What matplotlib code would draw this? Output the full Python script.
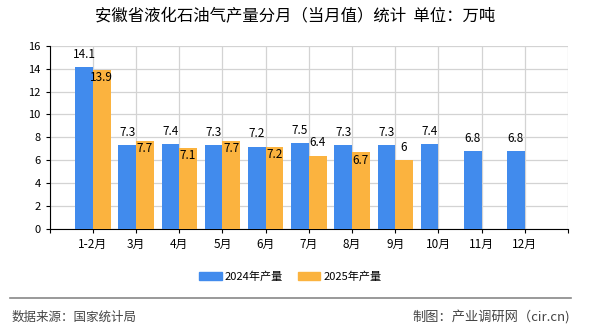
import matplotlib
matplotlib.use('Agg')
from matplotlib import pyplot as plt
import matplotlib.patches as mpatches
import numpy as np

plt.rcParams['font.family'] = ['Noto Sans CJK SC', 'DejaVu Sans']

months = ['1-2月', '3月', '4月', '5月', '6月', '7月', '8月', '9月', '10月', '11月', '12月']
vals_2024 = [14.1, 7.3, 7.4, 7.3, 7.2, 7.5, 7.3, 7.3, 7.4, 6.8, 6.8]
vals_2025 = [13.9, 7.7, 7.1, 7.7, 7.2, 6.4, 6.7, 6]

blue = '#418bed'
orange = '#fbb33f'

fig = plt.figure(figsize=(5.9, 3.3), dpi=100)
ax = fig.add_axes([0.0842, 0.306, 0.8785, 0.5555])

x = np.arange(1, len(months) + 1)
w = 0.41
ax.bar(x - w / 2, vals_2024, w, color=blue, zorder=3)
x2 = x[:len(vals_2025)]
ax.bar(x2 + w / 2, vals_2025, w, color=orange, zorder=3)

# labels: above the bar, orange ones drop inside when they would hit the blue label
for xi, v in zip(x, vals_2024):
	ax.text(xi - w / 2, v + 1.12, str(v), ha='center', va='center', fontsize=8.5, zorder=4)
for xi, v, b in zip(x2, vals_2025, vals_2024):
	if b - v >= 1.0:
		ax.text(xi + w / 2, v + 1.12, str(v), ha='center', va='center', fontsize=8.5, zorder=4)
	else:
		ax.text(xi + w / 2, v - 0.7, str(v), ha='center', va='center', fontsize=8.5, zorder=4)

ax.set_xlim(0, 12)
ax.set_ylim(0, 16)
ax.set_yticks(range(0, 17, 2))
ax.set_xticks(range(0, 13))
ax.set_xticklabels([''] + months + [''])
ax.tick_params(axis='y', labelsize=8, length=3, color='black')
ax.tick_params(axis='x', labelsize=8.5, length=3, color='black')
ax.grid(True, color='#d3d3d3', linewidth=0.9, zorder=0)
ax.spines['top'].set_visible(False)
ax.spines['right'].set_visible(False)
ax.spines['left'].set_color('black')
ax.spines['bottom'].set_color('black')

fig.text(0.5, 0.948, '安徽省液化石油气产量分月（当月值）统计  单位：万吨', ha='center', va='center', fontsize=11.8)

b_patch = mpatches.Patch(color=blue, label='2024年产量')
o_patch = mpatches.Patch(color=orange, label='2025年产量')
fig.legend(handles=[b_patch, o_patch], loc='center', bbox_to_anchor=(0.492, 0.161), ncol=2, frameon=False,
	fontsize=8, handlelength=2.0, handleheight=0.75, columnspacing=1.3, handletextpad=0.3)

fig.add_artist(plt.Line2D([0.017, 0.968], [0.097, 0.097], color='#888888', linewidth=1.2))
fig.text(0.019, 0.039, '数据来源：国家统计局', ha='left', va='center', fontsize=9, color='#444444')
fig.text(0.966, 0.039, '制图：产业调研网（cir.cn)', ha='right', va='center', fontsize=9.5, color='#444444')

fig.savefig('out.png', dpi=100)
